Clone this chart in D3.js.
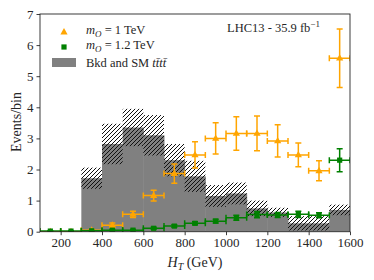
<!DOCTYPE html>
<html><head><meta charset="utf-8">
<script src="https://cdn.jsdelivr.net/npm/d3@7"></script>
<style>
body{margin:0;background:#fff;}
svg text{font-family:"Liberation Serif","DejaVu Serif",serif;fill:#262626;}
</style></head>
<body>
<svg id="c" width="374" height="280"></svg>
<script>
// bins (lower edges, width 100 GeV)
const binLow = [100,200,300,400,500,600,700,800,900,1000,1100,1200,1300,1400,1500];
const bkg    = [0,0,1.72,2.82,3.35,3.10,2.30,1.78,1.15,1.23,0.75,0.62,0.27,0.27,0.70];
const bkgErr = [0,0,0.34,0.65,0.60,0.65,0.52,0.50,0.35,0.35,0.25,0.15,0.23,0.23,0.17];
const sig1   = [0,0,0.05,0.21,0.56,1.16,1.87,2.47,3.00,3.16,3.16,2.92,2.47,1.96,5.58];
const sig1Err= [0,0,0.03,0.07,0.10,0.17,0.31,0.42,0.50,0.54,0.56,0.52,0.38,0.32,0.94];
const sig2   = [0.02,0.02,0.03,0.05,0.05,0.11,0.18,0.27,0.34,0.45,0.55,0.54,0.56,0.53,2.30];
const sig2Err= [0.01,0.01,0.01,0.02,0.02,0.03,0.04,0.05,0.06,0.08,0.10,0.08,0.10,0.08,0.37];
const xTicks = [200,400,600,800,1000,1200,1400,1600];
const yTicks = [0,1,2,3,4,5,6,7];
const binW = 100;

const FONT = '"Liberation Serif","DejaVu Serif",serif';
const svg = d3.select("#c");
const L=40,R=350,T=14,B=231.7;
const x = d3.scaleLinear().domain([100,1600]).range([L,R]);
const y = d3.scaleLinear().domain([0,7]).range([B,T]);

const defs = svg.append("defs");
const pat = defs.append("pattern").attr("id","hatch").attr("patternUnits","userSpaceOnUse")
  .attr("width",4).attr("height",4);
pat.append("path").attr("d","M-1,1 l2,-2 M0,4 l4,-4 M3,5 l2,-2")
  .attr("stroke","#111").attr("stroke-width",1);
defs.append("clipPath").attr("id","clip").append("rect")
  .attr("x",L).attr("y",T).attr("width",R-L).attr("height",B-T);

const g = svg.append("g").attr("clip-path","url(#clip)");
const bins = binLow.map((b,i)=>({b, v:bkg[i], e:bkgErr[i], s1:sig1[i], e1:sig1Err[i], s2:sig2[i], e2:sig2Err[i]}));

g.selectAll("rect.bk").data(bins.filter(d=>d.v>0)).join("rect")
  .attr("x",d=>x(d.b)).attr("width",d=>x(d.b+binW)-x(d.b)+0.5)
  .attr("y",d=>y(d.v)).attr("height",d=>y(0)-y(d.v)).attr("fill","#808080");
g.selectAll("rect.h").data(bins.filter(d=>d.e>0)).join("rect")
  .attr("x",d=>x(d.b)).attr("width",d=>x(d.b+binW)-x(d.b))
  .attr("y",d=>y(d.v+d.e)).attr("height",d=>y(d.v-d.e)-y(d.v+d.e)).attr("fill","url(#hatch)");

function errbars(key,ekey,color,marker){
  const gg = g.append("g").attr("stroke",color).attr("stroke-width",1.5).attr("fill","none");
  bins.forEach(d=>{
    const cx=x(d.b+binW/2), cy=y(d[key]);
    const x0=x(d.b), x1=x(d.b+binW);
    const y0=y(d[key]-d[ekey]), y1=y(d[key]+d[ekey]);
    gg.append("line").attr("x1",x0).attr("x2",x1).attr("y1",cy).attr("y2",cy);
    gg.append("line").attr("x1",cx).attr("x2",cx).attr("y1",y0).attr("y2",y1);
    [x0,x1].forEach(xx=>gg.append("line").attr("x1",xx).attr("x2",xx).attr("y1",cy-3).attr("y2",cy+3));
    [y0,y1].forEach(yy=>gg.append("line").attr("x1",cx-3).attr("x2",cx+3).attr("y1",yy).attr("y2",yy));
    marker(g,cx,cy,color);
  });
}
const tri=(p,cx,cy,c)=>p.append("path").attr("d",`M${cx},${cy-4} L${cx+3.6},${cy+2.4} L${cx-3.6},${cy+2.4}Z`).attr("fill",c);
const sq=(p,cx,cy,c)=>p.append("rect").attr("x",cx-2.6).attr("y",cy-2.6).attr("width",5.2).attr("height",5.2).attr("fill",c);
errbars("s1","e1","#FFA500",tri);
errbars("s2","e2","#008000",sq);

svg.append("rect").attr("x",L).attr("y",T).attr("width",R-L).attr("height",B-T)
  .attr("fill","none").attr("stroke","#262626").attr("stroke-width",0.9);

const xa = svg.append("g").attr("transform",`translate(0,${B})`)
  .call(d3.axisBottom(x).tickValues(xTicks).tickFormat(d3.format("d")).tickSize(3.5).tickPadding(3));
const ya = svg.append("g").attr("transform",`translate(${L},0)`)
  .call(d3.axisLeft(y).tickValues(yTicks).tickFormat(d3.format("d")).tickSize(3.5).tickPadding(3));
[xa,ya].forEach(a=>{
  a.attr("font-family",FONT).attr("font-size",13);
  a.select(".domain").remove();
  a.selectAll(".tick line").attr("stroke","#262626").attr("stroke-width",0.9);
  a.selectAll("text").attr("fill","#262626");
});

const xl = svg.append("text").attr("x",195).attr("y",267).attr("text-anchor","middle").attr("font-size",14);
xl.append("tspan").attr("font-style","italic").text("H");
xl.append("tspan").attr("font-style","italic").attr("font-size",10).attr("dy",3).text("T");
xl.append("tspan").attr("dy",-3).text(" (GeV)");
svg.append("text").attr("transform","translate(21,122) rotate(-90)").attr("text-anchor","middle")
  .attr("font-size",14).text("Events/bin");

const lt = svg.append("text").attr("x",227).attr("y",32).attr("font-size",12.5);
lt.append("tspan").text("LHC13 - 35.9 fb");
lt.append("tspan").attr("font-size",9).attr("dy",-5).text("−1");

const lg = svg.append("g");
tri(lg,64,32,"#FFA500");
sq(lg,64,47,"#008000");
lg.append("rect").attr("x",52).attr("y",58).attr("width",24).attr("height",9).attr("fill","#808080");
function mlabel(yy,val){
  const t = lg.append("text").attr("x",86).attr("y",yy).attr("font-size",12.5);
  t.append("tspan").attr("font-style","italic").text("m");
  t.append("tspan").attr("font-style","italic").attr("font-size",9).attr("dy",2.5).text("O");
  t.append("tspan").attr("dy",-2.5).text(" = "+val+" TeV");
}
mlabel(34,"1");
mlabel(49,"1.2");
const bt = lg.append("text").attr("x",86).attr("y",67).attr("font-size",12.5);
bt.append("tspan").text("Bkd and SM ");
bt.append("tspan").attr("font-style","italic").text("tt\u0304tt\u0304");
</script>
</body></html>
